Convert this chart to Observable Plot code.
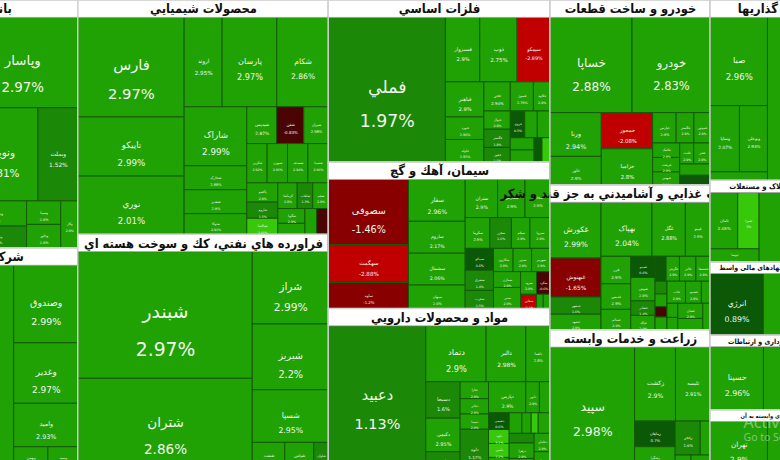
<!DOCTYPE html>
<html><head><meta charset="utf-8">
<script src="https://cdn.jsdelivr.net/npm/d3@7"></script>
<script src="https://cdn.jsdelivr.net/npm/@observablehq/plot@0.6"></script>
<style>html,body{margin:0;padding:0;background:#fff;} #chart{width:780px;height:460px;overflow:hidden;}</style>
</head><body><div id="chart"></div>
<script>
// ---- sectors (header titles) and the treemap column each one sits in
const sectorNames = [
  "بانکها و موسسات اعتباری",
  "شرکتهای چند رشته ای صنعتی",
  "محصولات شيميايي",
  "فراورده هاي نفتي، كك و سوخت هسته اي",
  "فلزات اساسي",
  "سيمان، آهك و گچ",
  "مواد و محصولات دارويي",
  "خودرو و ساخت قطعات",
  "محصولات غذايي و آشاميدني به جز قند و شكر",
  "زراعت و خدمات وابسته",
  "سرمایه گذاریها",
  "انبوه سازی، املاک و مستغلات",
  "فعالیتهای کمکی به نهادهای مالی واسط",
  "حمل و نقل، انبارداری و ارتباطات",
  "رایانه و فعالیتهای وابسته به آن"
];
const sectorColumn = [0,0,1,1,2,2,2,3,3,3,4,4,4,4,4];

// ---- stocks per sector: [symbol, size (market value, estimated), change %]
// a row with an empty symbol is the part of the sector outside the visible window
const banks = [["",388,2.9],["وپاسار",100,2.97],["ونوین",66,2.81],["وبملت",37,1.52],["وتجارت",15,2.00],["وسامان",13,1.45],["وسینا",8,2.9],["وخاور",8,2.9],["وکار",8,2.9]];
const multi = [["",444,2.9],["وصندوق",50,2.99],["وغدیر",39,2.97],["وامید",28,2.93],["وبهمن",8,2.9],["وسپه",7,2.9]];
const chem = [["فارس",106,2.97],["تاپیکو",63,2.99],["نوري",62,2.01],["اروند",34,2.95],["پارسان",49,2.97],["شکام",46,2.86],["شاراک",37,2.99],["شخارک",15,2.88],["شغدیر",15,2.9],["شتوکا",13,2.91],["شپدیس",11,2.87],["شفن",10,-0.83],["شیران",9,2.98],["شکربن",8,2.92],["شبهرن",8,2.95],["شصدف",8,2.94],["شسینا",8,2.96],["پاکشو",6,2.9],["شاروم",5,1.5],["شپاکسا",5,3.05],["کرماشا",5,2.8],["شلعاب",4,1.3],["شجم",4,2.9],["شگویا",4,2.9],["شفارس",3,2.9],["شبصیر",3,2.9],["شدوص",3,-0.5]];
const refinery = [["شبندر",221,2.97],["شتران",160,2.86],["شراز",55,2.99],["شبریز",50,2.2],["شسپا",40,2.95],["شنفت",9,2.9],["شپاس",8,2.9],["شاوان",4,1.5]];
const metals = [["فملي",176,1.97],["فسبزوار",23,2.9],["ذوب",25,2.75],["سیمکو",22,-2.89],["فباهنر",14,2.9],["فنورد",9,2.96],["فلوله",9,2.95],["فجر",8,2.94],["فسوژ",7,2.79],["فکاوه",5,2.9],["فنوال",5,2.9],["فگستر",5,1.8],["فخوز",4,1.5],["فروی",4,0.5],["فاما",3.5,2.9],["فالوم",3.5,2.9],["فرآور",3,2.9],["فزر",3,2.9],["فبیرا",2,0.5],["فپنتا",2,3.1]];
const cement = [["سصوفی",55,-1.46],["سهگمت",32,-2.88],["ساوه",22,-1.2],["سفار",25,2.96],["ساروم",19,2.17],["سشمال",19,2.06],["سبهان",14,2.9],["ستران",13,2.9],["سفارس",11,2.9],["سخاش",10,2.9],["سکرما",8,2.9],["سخزر",7,1.6],["سیلام",6,2.9],["سبزوا",6.5,2.9],["سیدکو",6.5,0.6],["سشرق",6,1.4],["سغرب",5.4,1.5],["سکارون",4.8,2.9],["سدور",4.5,2.9],["سهرمز",4.5,2.9],["سمازن",4.5,2.9],["سنیر",6,2.9],["سرود",3.8,2.9],["سکرد",3.2,-0.6],["سقاین",2.4,-2.1],["ستاو",1,2.9],["سخوز",1,2.9]];
const pharma = [["دعبید",146,1.13],["دتماد",35,2.9],["دالبر",23,2.98],["دلقما",14,2.8],["دسبحا",13,1.6],["دکیمی",12,2.95],["داسوه",6.5,1.4],["دفارا",5,2.9],["دجابر",4.5,2.9],["دسینا",4.5,2.9],["دلوه",12,1.17],["دپارس",12,2.9],["دابور",4.4,2.9],["دزهراوی",3.4,2.9],["دشیمی",3.6,0.6],["داوه",3,3.1],["دامین",3,3.2],["دتولید",2.7,2.9],["دفرا",2.7,2.9],["دکپسول",2,2.9],["درهآور",1.5,3.1],["دیران",2.5,2.9],["دقاضی",2.5,1.5],["دزهرا",4,2.9],["دشیری",3,2.9],["دعاملی",3,2.9],["دتهران",3,2.9]];
const auto = [["خساپا",80,2.88],["خودرو",76,2.83],["ورنا",23,2.94],["خاور",15,2.9],["خمحور",19,-2.08],["خزامیا",19,2.8],["خپارس",7.3,2.9],["خگستر",5.5,2.9],["خموتور",5,2.9],["خکمک",4,2.9],["خریخت",4,2.9],["خبهمن",3.6,2.9],["خلنت",3,2.9],["خفنر",3.5,2.9],["خچرخش",3.5,2.9],["خرینگ",3,0.5]];
const food = [["غکورش",30,2.99],["غبهنوش",21,-1.65],["غبشهر",9.2,1.6],["غشهد",8.4,2.9],["بهپاک",29,2.04],["غگل",19,2.88],["غپینو",14,2.9],["غزر",8.6,2.9],["غدیس",8,2.9],["غسالم",6.4,2.9],["غمینو",5.4,0.6],["غنوش",6,2.9],["غشاذر",3.7,1.4],["غپاک",3.7,2.9],["غمارگ",2.9,0.5],["غگرجی",3.5,2.9],["غالبر",4.3,2.9],["غشصفا",3.7,2.9],["غدشت",1.6,1.5],["غاذر",1.6,2.9],["غفارس",1.3,-0.7],["غپاذر",1.6,2.9],["غناب",4.3,2.9],["غصینو",3.7,2.9],["غچین",2,2.9],["غلپینو",1.6,2.9],["غویتا",1.4,2.9],["غشان",4,2.9],["غبهار",3,2.9],["غدام",2,2.9]];
const agri = [["سپید",110,2.98],["زکشت",32,2.9],["تلیسه",27,2.91],["زماهان",11,0.7],["زشگزا",10,2.9],["زفجر",9,1.6],["زدشت",3.5,2.9],["زکوثر",2.5,2.9],["زقیام",3,2.9]];
const invest = [["",138,2.9],["صبا",52,2.96],["وساپا",20,2.07],["وبوعلی",19,2.93],["وصنعت",5,2.9]];
const realty = [["",69,2.9],["ثامان",17,2.05],["ثعمرا",13,3.0],["ثنوسا",7,2.9]];
const finaid = [["",59,2.9],["انرژي",36,0.89]];
const transport = [["",60,2.9],["حسینا",37,2.96]];
const computing = [["",46,2.9],["تهران",32,2.9]];
const sectorStocks = [banks, multi, chem, refinery, metals, cement, pharma, auto, food, agri, invest, realty, finaid, transport, computing];

// colour classes of the change %
const changeBreaks = [-2, -1, 0, 1, 2, 3];
const changeColors = ["#c00000", "#880000", "#4a0404", "#0b5806", "#1c8808", "#21a204", "#37c80a"];

// ---- layout (the visible window is a part of a wider treemap)
const LAYOUT_W = 1052, LAYOUT_H = 470, SHIFT = -202;
const nCols = d3.max(sectorColumn) + 1;
const rootData = {children: d3.range(nCols).map(c => ({
  children: sectorNames.map((n, i) => i).filter(i => sectorColumn[i] === c).map(i => ({
    title: sectorNames[i],
    side: c === 0 ? "left" : (c === nCols - 1 ? "right" : null),
    children: sectorStocks[i].map(([name, size, change]) => ({name, size, change}))
  }))
}))};
const root = d3.hierarchy(rootData).sum(d => d.size || 0);
const headerFont = n => Math.max(5.8, Math.min(12.8, Math.min(n.x1 - n.x0, n.y1 - n.y0) * 0.095));
const headerH = n => Math.max(11.5, headerFont(n) + 4.5);

function tile(node, x0, y0, x1, y1) {
  if (node.depth === 0) return d3.treemapDice(node, x0, y0, x1, y1);
  if (node.depth === 1) return d3.treemapSlice(node, x0, y0, x1, y1);
  const hidden = node.children.filter(k => !k.data.name);
  const shown = node.children.filter(k => k.data.name);
  let vx0 = x0, vx1 = x1;
  if (hidden.length) {
    const w = (x1 - x0) * d3.sum(hidden, k => k.value) / node.value;
    const h = hidden[0];
    if (node.data.side === "left") { h.x0 = x0; h.x1 = x0 + w; vx0 = x0 + w; }
    else { h.x0 = x1 - w; h.x1 = x1; vx1 = x1 - w; }
    h.y0 = y0; h.y1 = y1;
  }
  d3.treemapSquarify({children: shown, value: d3.sum(shown, k => k.value)}, vx0, y0, vx1, y1);
}
d3.treemap().size([LAYOUT_W, LAYOUT_H]).tile(tile)
  .paddingTop(n => n.depth === 2 ? headerH(n) : 0)(root);

const sectors = root.descendants().filter(n => n.depth === 2).map(n => {
  const hh = headerH(n);
  return {
    title: n.data.title, fsH: headerFont(n),
    x0: n.x0 + SHIFT, x1: n.x1 + SHIFT, y0: n.y0, y1: n.y1, hy1: n.y0 + hh,
    cells: n.children.map(c => {
      const w = c.x1 - c.x0, h = c.y1 - c.y0, m = Math.min(w, h);
      const fs = Math.max(3.2, Math.min(26, m * 0.148));
      return {
        name: c.data.name, change: c.data.change,
        x0: c.x0 + SHIFT, x1: c.x1 + SHIFT, y0: c.y0, y1: c.y1,
        cx: (c.x0 + c.x1) / 2 + SHIFT, ty: (c.y0 + c.y1) / 2 + fs * 0.5, fs,
        show: !!c.data.name && m >= 13,
        label: c.data.name + "\n" + c.data.change + "%"
      };
    })
  };
});

const HEADER_FONT = "'DejaVu Sans Condensed', 'DejaVu Sans', sans-serif";
const marks = sectors.flatMap(s => [
  Plot.rect(s.cells, {x1: "x0", x2: "x1", y1: "y0", y2: "y1", fill: "change", stroke: "#125a06", strokeWidth: 1}),
  Plot.text(s.cells.filter(c => c.show), {x: "cx", y: "ty", text: "label", fontSize: "fs", fill: "#f1f6ee",
    lineHeight: 2, lineAnchor: "middle", fontFamily: "DejaVu Sans"}),
  Plot.rect([s], {x1: "x0", x2: "x1", y1: "y0", y2: "hy1", fill: "white", stroke: "#a8a8a8", strokeWidth: 0.8}),
  Plot.text([s], {x: d => (d.x0 + d.x1) / 2, y: d => (d.y0 + d.hy1) / 2, text: "title", fontSize: s.fsH,
    fontWeight: "bold", fill: "#111", fontFamily: HEADER_FONT}),
  Plot.rect([s], {x1: "x0", x2: "x1", y1: "y0", y2: "y1", fill: "none", stroke: "#d4d4d4", strokeWidth: 1.4})
]);
marks.push(
  Plot.text(["Activate Windows"], {text: d => d, frameAnchor: "bottom-right", textAnchor: "start", lineAnchor: "middle",
    dx: -37, dy: -38, fontSize: 16, fill: "#e6e6e6", fillOpacity: 0.5, fontFamily: "Noto Sans"}),
  Plot.text(["Go to Settings to activate Windows."], {text: d => d, frameAnchor: "bottom-right", textAnchor: "start", lineAnchor: "middle",
    dx: -37, dy: -23, fontSize: 10.5, fill: "#e6e6e6", fillOpacity: 0.5, fontFamily: "Noto Sans"})
);

const chart = Plot.plot({
  width: 780, height: 460, margin: 0,
  x: {domain: [0, 780], range: [0, 780], axis: null},
  y: {domain: [0, 460], range: [0, 460], axis: null},
  color: {type: "threshold", domain: changeBreaks, range: changeColors},
  style: {background: "white", overflow: "hidden"},
  marks
});
document.getElementById("chart").appendChild(chart);
</script>
</body></html>
